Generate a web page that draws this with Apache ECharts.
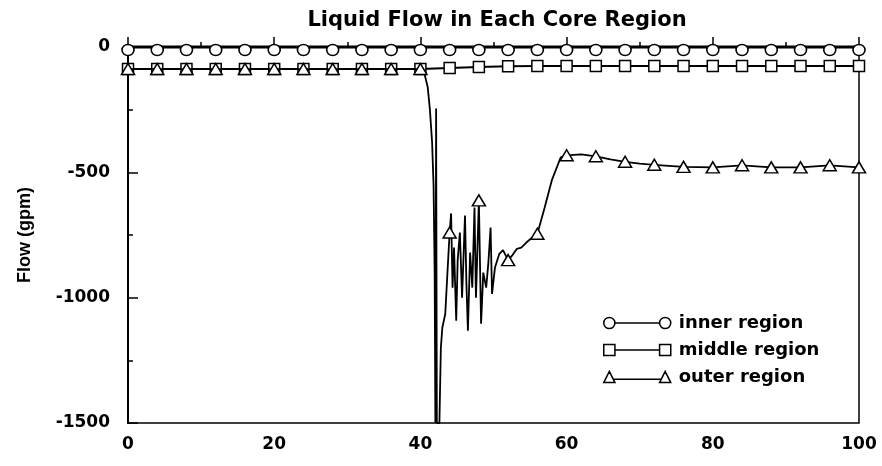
<!DOCTYPE html>
<html>
<head>
<meta charset="utf-8">
<script src="https://cdn.jsdelivr.net/npm/echarts@6/dist/echarts.min.js"></script>
<style>html,body{margin:0;padding:0;background:#fff;}#c{width:882px;height:466px;}</style>
</head>
<body>
<div id="c"></div>
<script>
// ---- data ----
const markerX = [0,4,8,12,16,20,24,28,32,36,40,44,48,52,56,60,64,68,72,76,80,84,88,92,96,100];
const innerY  = [0,0,0,0,0,0,0,0,0,0,0,0,0,0,0,0,0,0,0,0,0,0,0,0,0,0];
const middleY = [-88,-88,-88,-88,-88,-88,-88,-88,-88,-88,-88,-84,-80,-77,-76,-76,-76,-76,-76,-76,-76,-76,-76,-76,-76,-76];
const outerY  = [-88,-88,-88,-88,-88,-88,-88,-88,-88,-88,-88,-740,-612,-850,-745,-432,-436,-458,-470,-478,-480,-472,-480,-480,-472,-480];
// dense transient samples of the outer region between the markers
const outerDetailX = [40.5,41.0,41.3,41.6,41.8,41.95,42.05,42.15,42.25,42.6,42.8,43.0,43.4,43.7,
  44.2,44.4,44.6,44.9,45.1,45.4,45.7,46.1,46.3,46.5,46.8,47.1,47.4,47.6,
  48.3,48.6,49.0,49.3,49.6,49.8,50.2,50.8,51.3,52.6,53.2,53.8,54.5,55.3,57.0,58.0,59.2,62,66,70];
const outerDetailY = [-100,-160,-250,-380,-550,-900,-1500,-245,-1500,-1500,-1200,-1120,-1065,-900,
  -664,-960,-800,-1092,-850,-740,-1000,-672,-950,-1132,-820,-960,-640,-1000,
  -1104,-900,-960,-860,-720,-985,-880,-825,-810,-830,-805,-800,-780,-760,-640,-530,-440,-428,-448,-465];
const xTicks = {min:0, max:100, interval:20};
const yTicks = {min:-1500, max:0, interval:500};
const seriesNames = ['inner region','middle region','outer region'];

const pairs = (xs, ys) => xs.map((x,i)=>[x, ys[i]]);
const outerPts = markerX.map((x,i)=>({value:[x,outerY[i]]}))
  .concat(outerDetailX.map((x,i)=>({value:[x,outerDetailY[i]], symbol:'none'})))
  .sort((a,b)=>a.value[0]-b.value[0]);

const hFont = 'DejaVu Sans';
const markStyle = {color:'#fff', borderColor:'#000', borderWidth:1.5};
const icons = {
  circle: 'path://M0,5 A5,5 0 1,1 10,5 A5,5 0 1,1 0,5 Z M10,5 L50,5 M50,5 A5,5 0 1,1 60,5 A5,5 0 1,1 50,5 Z',
  rect: 'path://M0,0 L10,0 L10,10 L0,10 Z M10,5 L50,5 M50,0 L60,0 L60,10 L50,10 Z',
  triangle: 'path://M5,0 L10,10 L0,10 Z M8,7 L52,7 M55,0 L60,10 L50,10 Z'
};

const chart = echarts.init(document.getElementById('c'), null, {renderer:'canvas'});
chart.setOption({
  animation:false,
  backgroundColor:'#fff',
  title:{text:'Liquid Flow in Each Core Region', left:492, top:5, textAlign:'center',
    textStyle:{fontFamily:hFont, fontWeight:'bold', fontSize:21, color:'#000'}},
  grid:{left:128, right:23, top:47, bottom:43, show:true, borderColor:'#000', borderWidth:1.5, backgroundColor:'transparent'},
  legend:{orient:'vertical', left:598, top:309, itemWidth:67, itemHeight:12, itemGap:9,
    textStyle:{fontFamily:hFont, fontWeight:'bold', fontSize:18, color:'#000', padding:[0,0,0,3]},
    data:[
      {name:seriesNames[0], icon:icons.circle, itemStyle:markStyle},
      {name:seriesNames[1], icon:icons.rect, itemStyle:markStyle},
      {name:seriesNames[2], icon:icons.triangle, itemStyle:markStyle}
    ]},
  xAxis:{type:'value', min:xTicks.min, max:xTicks.max, interval:xTicks.interval,
    axisLine:{show:true, lineStyle:{color:'#000', width:2}},
    axisTick:{show:true, inside:true, length:10, lineStyle:{color:'#000', width:1.5}},
    minorTick:{show:true, splitNumber:2, length:5, lineStyle:{color:'#000', width:1.5}},
    splitLine:{show:false},
    axisLabel:{margin:13, color:'#000', fontFamily:hFont, fontWeight:'bold', fontSize:17,
      formatter:v=>String(v)}},
  yAxis:{type:'value', min:yTicks.min, max:yTicks.max, interval:yTicks.interval,
    name:'Flow (gpm)', nameLocation:'middle', nameGap:94, nameRotate:90,
    nameTextStyle:{fontFamily:'Liberation Sans', fontWeight:'bold', fontSize:18, color:'#000'},
    axisLine:{show:true, lineStyle:{color:'#000', width:2}},
    axisTick:{show:true, inside:true, length:10, lineStyle:{color:'#000', width:1.5}},
    minorTick:{show:true, splitNumber:2, length:5, lineStyle:{color:'#000', width:1.5}},
    splitLine:{show:false},
    axisLabel:{margin:18, color:'#000', fontFamily:hFont, fontWeight:'bold', fontSize:17,
      formatter:v=>String(v)}},
  series:[
    {name:seriesNames[2], type:'line', data:outerPts, symbol:'triangle', symbolSize:[13,11], clip:false,
      lineStyle:{color:'#000', width:1.8}, itemStyle:markStyle, z:3},
    {name:seriesNames[1], type:'line', data:pairs(markerX, middleY), symbol:'rect', symbolSize:[11,11], clip:false,
      lineStyle:{color:'#000', width:2}, itemStyle:markStyle, z:2},
    {name:seriesNames[0], type:'line', data:pairs(markerX, innerY), symbol:'circle', symbolSize:[12,11], symbolOffset:[0,3], clip:false,
      lineStyle:{color:'#000', width:3}, itemStyle:markStyle, z:4}
  ]
});
</script>
</body>
</html>
